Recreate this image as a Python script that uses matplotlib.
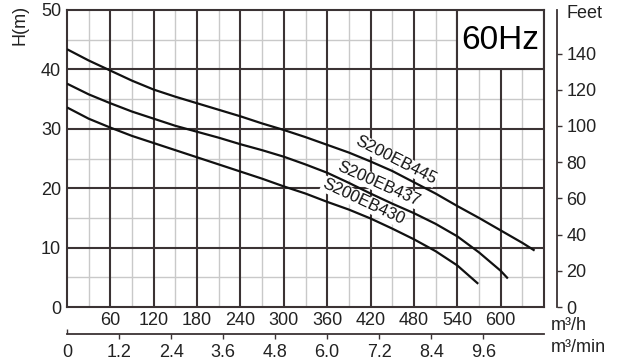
import matplotlib
matplotlib.use("Agg")
import matplotlib.pyplot as plt
from matplotlib.patches import Rectangle
from matplotlib.ticker import FixedLocator, FixedFormatter

plt.rcParams['font.family'] = ['Liberation Sans', 'DejaVu Sans']

# ---- data ----
flow_445 = [0, 30, 60, 90, 120, 150, 180, 210, 240, 270, 300, 330, 360, 390, 420,
            450, 480, 510, 540, 570, 600, 630, 647]
head_445 = [43.4, 41.5, 39.8, 38.1, 36.6, 35.4, 34.3, 33.2, 32.1, 30.9, 29.8, 28.6,
            27.3, 26.0, 24.5, 22.9, 21.0, 19.1, 17.0, 15.0, 12.9, 10.8, 9.5]

flow_437 = [0, 30, 60, 90, 120, 150, 180, 210, 240, 270, 300, 330, 360, 390, 420,
            450, 480, 510, 540, 570, 600, 610]
head_437 = [37.6, 35.8, 34.3, 32.9, 31.7, 30.5, 29.5, 28.5, 27.4, 26.4, 25.3, 24.0,
            22.6, 20.9, 19.1, 17.4, 15.8, 14.0, 11.9, 9.2, 6.1, 4.8]

flow_430 = [0, 30, 60, 90, 120, 150, 180, 210, 240, 270, 300, 330, 360, 390, 420,
            450, 480, 510, 540, 569]
head_430 = [33.6, 31.7, 30.2, 28.8, 27.6, 26.4, 25.2, 24.0, 22.8, 21.6, 20.3, 19.1,
            17.7, 16.4, 14.9, 13.2, 11.4, 9.4, 7.0, 3.9]

series_names = ["S200EB445", "S200EB437", "S200EB430"]
label_pos = [(455, 24.7, -27), (431, 20.7, -24), (410, 17.7, -25)]

x_ticks_m3h = [60, 120, 180, 240, 300, 360, 420, 480, 540, 600]
y_ticks_m = [0, 10, 20, 30, 40, 50]
feet_ticks = [0, 20, 40, 60, 80, 100, 120, 140]
m3min_ticks = [1.2, 2.4, 3.6, 4.8, 6.0, 7.2, 8.4, 9.6]
m3min_labels = ["1.2", "2.4", "3.6", "4.8", "6.0", "7.2", "8.4", "9.6"]

DARK = '#3b3334'
LIGHT = '#c9c9c9'
TXT = '#222222'
FS = 13

W, H = 623, 364
fig = plt.figure(figsize=(W / 100, H / 100), dpi=100)
ax = fig.add_axes([67 / W, 57 / H, 477 / W, 297 / H])
ax.set_xlim(0, 660)
ax.set_ylim(0, 50)

# grid
for xv in range(30, 660, 60):
    ax.axvline(xv, color=LIGHT, lw=1.0, zorder=0.5)
for yv in range(5, 50, 10):
    ax.axhline(yv, color=LIGHT, lw=1.0, zorder=0.5)
for xv in range(60, 660, 60):
    ax.axvline(xv, color=DARK, lw=1.5, zorder=0.6)
for yv in range(10, 50, 10):
    ax.axhline(yv, color=DARK, lw=1.5, zorder=0.6)

ax.add_patch(Rectangle((540, 40), 120, 10, facecolor='white', edgecolor=DARK,
                       lw=1.5, zorder=1))
ax.text(600, 44.8, "60Hz", ha='center', va='center', fontsize=24, color='black', zorder=2)

for s in ax.spines.values():
    s.set_color(DARK)
    s.set_linewidth(1.5)

ax.set_xticks(x_ticks_m3h)
ax.set_xticklabels([str(v) for v in x_ticks_m3h])
ax.set_yticks(y_ticks_m)
ax.set_yticklabels([str(v) for v in y_ticks_m])
ax.tick_params(length=0, labelsize=FS, labelcolor=TXT)
ax.tick_params(axis='x', pad=3.6)
ax.tick_params(axis='y', pad=4.3)

# curves
for fl, hd, name, (lx, ly, rot) in zip([flow_445, flow_437, flow_430],
                                       [head_445, head_437, head_430],
                                       series_names, label_pos):
    ax.plot(fl, hd, color='#111111', lw=1.6, zorder=3, solid_capstyle='butt')
    ax.text(lx, ly, name, rotation=rot, rotation_mode='anchor', ha='center', va='center',
            fontsize=12, color='#111111', zorder=2,
            bbox=dict(facecolor='white', edgecolor='none', pad=0.5))

# right feet axis
ax2 = ax.twinx()
ax2.set_ylim(0, 50 * 3.28084)
ax2.set_yticks(feet_ticks)
ax2.set_yticklabels([str(v) for v in feet_ticks])
for k in ['left', 'top', 'bottom']:
    ax2.spines[k].set_visible(False)
ax2.spines['right'].set_position(('outward', 13 * 0.72))
ax2.spines['right'].set_color(DARK)
ax2.spines['right'].set_linewidth(1.3)
ax2.tick_params(axis='y', direction='out', length=3.6, width=1.0, color=DARK,
                pad=3.0, labelsize=FS, labelcolor=TXT)
fig.text(567 / W, 1 - 14 / H, "Feet", ha='left', va='center', fontsize=FS, color=TXT)

# bottom m3/min axis
ax3 = ax.twiny()
ax3.set_xlim(0, 660 / 60)
for k in ['left', 'top', 'right']:
    ax3.spines[k].set_visible(False)
ax3.xaxis.set_ticks_position('bottom')
ax3.xaxis.set_label_position('bottom')
ax3.spines['bottom'].set_position(('outward', 27 * 0.72))
ax3.spines['bottom'].set_color(DARK)
ax3.spines['bottom'].set_linewidth(1.3)
ax3.set_xticks(m3min_ticks)
ax3.set_xticklabels(m3min_labels)
ax3.xaxis.set_minor_locator(FixedLocator([0]))
ax3.xaxis.set_minor_formatter(FixedFormatter(["0"]))
ax3.tick_params(axis='x', which='major', direction='out', length=3.6, width=1.0,
                color=DARK, pad=3.6, labelsize=FS, labelcolor=TXT)
ax3.tick_params(axis='x', which='minor', direction='in', length=3.6, width=1.0,
                color=DARK, pad=7.2, labelsize=FS, labelcolor=TXT, labelbottom=True)

fig.text(551 / W, 1 - 325 / H, "m³/h", ha='left', va='center', fontsize=FS, color=TXT)
fig.text(551 / W, 1 - 348 / H, "m³/min", ha='left', va='center', fontsize=FS, color=TXT)
fig.text(20 / W, 1 - 25 / H, "H(m)", rotation=90, ha='center', va='center',
         fontsize=FS, color=TXT)

fig.savefig("out.png", dpi=100)
